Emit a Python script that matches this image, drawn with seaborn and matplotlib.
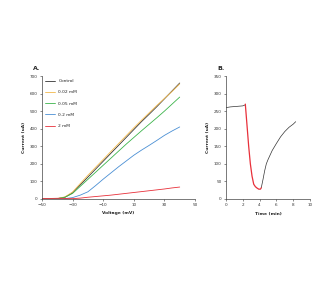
import matplotlib
matplotlib.use("Agg")
import matplotlib.pyplot as plt
import seaborn as sns
import pandas as pd

# Panel A data
voltage = [-50, -45, -40, -35, -30, -25, -20, -15, -10, -5, 0, 5, 10, 15, 20, 25, 30, 35, 40]
control = [0, 0, 2, 10, 35, 80, 125, 170, 215, 260, 305, 350, 395, 440, 482, 525, 570, 615, 660]
mM_002 = [0, 0, 3, 12, 40, 88, 135, 180, 225, 270, 315, 360, 405, 448, 490, 532, 572, 612, 655]
mM_005 = [0, 0, 2, 10, 32, 72, 112, 152, 192, 232, 272, 312, 350, 388, 425, 462, 500, 540, 580]
mM_02 = [0, 0, 0, 2, 8, 22, 41, 76, 113, 148, 183, 216, 249, 278, 305, 333, 362, 387, 410]
mM_2 = [2, 3, 4, 3, 2, 5, 10, 14, 18, 22, 27, 32, 37, 42, 47, 52, 57, 63, 68]
series_names = ["Control", "0.02 mM", "0.05 mM", "0.2 mM", "2 mM"]
series_colors = ["#333333", "#f2b84b", "#3cb44b", "#4a8fd4", "#e8303a"]

# Panel B data
time_pre = [0, 0.5, 1.0, 1.5, 2.0, 2.3]
cur_pre = [260, 262, 263, 264, 265, 268]
time_drug = [2.3, 2.5, 2.7, 2.9, 3.1, 3.3, 3.5, 3.7, 3.9, 4.1, 4.2]
cur_drug = [270, 210, 150, 100, 65, 42, 35, 31, 28, 28, 32]
time_post = [4.2, 4.4, 4.6, 4.8, 5.0, 5.5, 6.0, 6.5, 7.0, 7.5, 8.0, 8.3]
cur_post = [32, 55, 80, 100, 112, 138, 158, 177, 192, 204, 213, 220]

sns.set_style("ticks")
plt.rcParams['font.family'] = ['DejaVu Sans']

fig = plt.figure(figsize=(3.32, 2.84), dpi=100)
W, H = 332, 284
axA = fig.add_axes([42 / W, 1 - 199 / H, (195 - 42) / W, (199 - 76) / H])
axB = fig.add_axes([226 / W, 1 - 199 / H, (310 - 226) / W, (199 - 76) / H])

rows = []
for name, vals in zip(series_names, [control, mM_002, mM_005, mM_02, mM_2]):
    for v, c in zip(voltage, vals):
        rows.append({"Voltage": v, "Current": c, "Series": name})
dfA = pd.DataFrame(rows)
sns.lineplot(data=dfA, x="Voltage", y="Current", hue="Series", hue_order=series_names,
             palette=series_colors, ax=axA, linewidth=0.6)
axA.set_xlim(-50, 50)
axA.set_ylim(0, 700)
axA.set_xticks([-50, -30, -10, 10, 30, 50])
axA.set_yticks(range(0, 701, 100))
axA.set_xlabel("Voltage (mV)", fontsize=3.2, fontweight="bold", labelpad=3)
axA.set_ylabel("Current (uA)", fontsize=3.2, fontweight="bold", labelpad=3)
leg = axA.legend(loc="upper left", frameon=False, fontsize=3.2, handlelength=2.2,
                 labelspacing=1.6, borderaxespad=0.3, bbox_to_anchor=(0.0, 1.0))
for l in leg.get_lines():
    l.set_linewidth(0.6)

dfB1 = pd.DataFrame({"Time": time_pre, "Current": cur_pre})
dfB2 = pd.DataFrame({"Time": time_drug, "Current": cur_drug})
dfB3 = pd.DataFrame({"Time": time_post, "Current": cur_post})
sns.lineplot(data=dfB1, x="Time", y="Current", color="#333333", ax=axB, linewidth=0.5)
sns.lineplot(data=dfB3, x="Time", y="Current", color="#333333", ax=axB, linewidth=0.5)
sns.lineplot(data=dfB2, x="Time", y="Current", color="#e8303a", ax=axB, linewidth=0.9)
axB.set_xlim(0, 10)
axB.set_ylim(0, 350)
axB.set_xticks(range(0, 11, 2))
axB.set_yticks(range(0, 351, 50))
axB.set_xlabel("Time (min)", fontsize=3.2, fontweight="bold", labelpad=3)
axB.set_ylabel("Current (uA)", fontsize=3.2, fontweight="bold", labelpad=3)

for ax in (axA, axB):
    sns.despine(ax=ax)
    ax.tick_params(labelsize=3.0, length=1.5, width=0.4, pad=1.5, colors="#333333")
    for s in ("left", "bottom"):
        ax.spines[s].set_linewidth(0.5)
        ax.spines[s].set_color("#444444")

fig.text(33 / W, 1 - 68 / H, "A.", fontsize=4.5, fontweight="bold", va="center")
fig.text(217 / W, 1 - 68 / H, "B.", fontsize=4.5, fontweight="bold", va="center")

fig.savefig("out.png", dpi=100)
